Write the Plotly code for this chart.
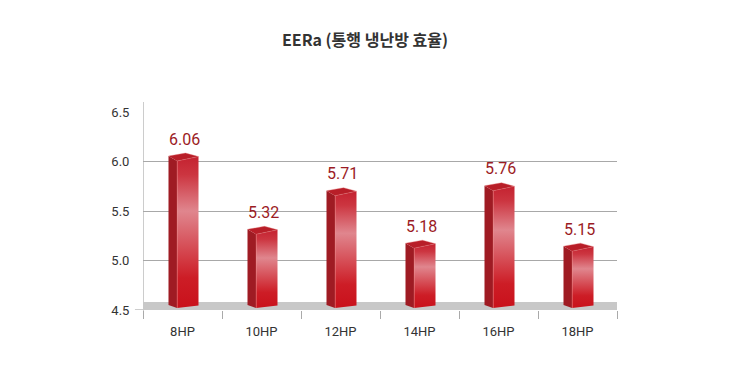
import plotly.graph_objects as go

categories = ["8HP", "10HP", "12HP", "14HP", "16HP", "18HP"]
values = [6.06, 5.32, 5.71, 5.18, 5.76, 5.15]
y_ticks = [4.5, 5.0, 5.5, 6.0, 6.5]
title_text = "EERa (통행 냉난방 효율)"

# pixel-to-data conversion for the pseudo-3D bar geometry
PX_X = 1 / 79.0
PX_Y = 2.0 / 198.0

def ox(i, px):
    return i + px * PX_X

def oy(v, px):
    return v + px * PX_Y

fig = go.Figure()

side_col = "#9f1b23"
top_col = "#b81e28"
front_scale = [[0.0, "#c9111b"], [0.2, "#cd1d26"], [0.64, "#e0868e"],
               [0.88, "#cc3540"], [1.0, "#c42230"]]

for i, v in enumerate(values):
    # side face
    fig.add_trace(go.Scatter(
        x=[ox(i, -14), ox(i, -5.5), ox(i, -5.5), ox(i, -14)],
        y=[oy(v, -0.5), oy(v, -5.5), 4.52, 4.55],
        fill="toself", mode="lines", line=dict(width=0),
        fillcolor=side_col, hoverinfo="skip", showlegend=False))
    # front face with vertical gradient
    fig.add_trace(go.Scatter(
        x=[ox(i, -5.5), ox(i, 16), ox(i, 16), ox(i, -5.5)],
        y=[oy(v, -5.5), oy(v, -1), 4.545, 4.52],
        fill="toself", mode="lines", line=dict(width=0),
        fillgradient=dict(type="vertical", colorscale=front_scale),
        hoverinfo="skip", showlegend=False))
    # light front-left edge
    fig.add_trace(go.Scatter(
        x=[ox(i, -5.2), ox(i, -5.2)], y=[oy(v, -5.5), 4.52],
        mode="lines", line=dict(width=1, color="rgba(240,150,150,0.55)"),
        hoverinfo="skip", showlegend=False))
    # top face
    fig.add_trace(go.Scatter(
        x=[ox(i, -14), ox(i, 3), ox(i, 16), ox(i, -5.5)],
        y=[oy(v, -0.5), oy(v, 2.5), oy(v, -1), oy(v, -5.5)],
        fill="toself", mode="lines", line=dict(width=0.6, color="rgba(230,120,120,0.6)"),
        fillcolor=top_col, hoverinfo="skip", showlegend=False))

annotations = []
for i, v in enumerate(values):
    annotations.append(dict(
        x=i + 0.02, y=v, xref="x", yref="y", text=f"{v:.2f}",
        showarrow=False, yshift=16.5, yanchor="middle",
        font=dict(family="Roboto, sans-serif", size=16, color="#9b1b24")))

shapes = [
    # grey floor band
    dict(type="rect", xref="x", yref="y", x0=-0.5, x1=len(categories) - 0.5,
         y0=4.5, y1=4.58, fillcolor="#c8c8c8", line=dict(width=0), layer="between"),
    # baseline
    dict(type="line", xref="paper", yref="y", x0=-0.017, x1=1, y0=4.5, y1=4.5,
         line=dict(color="#9a9a9a", width=1), layer="between"),
    # y axis line (extends beyond plot area)
    dict(type="line", xref="x", yref="paper", x0=-0.5, x1=-0.5, y0=-0.04, y1=1.05,
         line=dict(color="#cccccc", width=2), layer="between"),
]

fig.update_layout(
    width=730, height=370,
    margin=dict(l=135, r=121, t=104, b=68),
    paper_bgcolor="white", plot_bgcolor="white",
    title=dict(text=title_text, x=357 / 730, xref="container", xanchor="center",
               y=1 - 32 / 370, yref="container", yanchor="middle",
               font=dict(family="Noto Sans CJK KR", size=16, color="#333333", weight=700)),
    xaxis=dict(range=[-0.5, len(categories) - 0.5], tickmode="array",
               tickvals=list(range(len(categories))), ticktext=categories,
               ticks="outside", ticklen=9, tickcolor="rgba(0,0,0,0)",
               showgrid=False, zeroline=False, showline=False,
               tickfont=dict(family="Roboto, sans-serif", size=13, color="#333333"),
               minor=dict(tick0=0.5, dtick=1, ticks="outside", ticklen=8,
                          tickcolor="#aaaaaa", tickwidth=1, showgrid=False),
               fixedrange=True),
    yaxis=dict(range=[4.5, 6.5], tickmode="array", tickvals=y_ticks,
               ticktext=[f"{t:.1f}" for t in y_ticks],
               showgrid=True, gridcolor="#a8a8a8", gridwidth=1,
               zeroline=False, showline=False,
               ticks="outside", ticklen=10, tickcolor="rgba(0,0,0,0)",
               tickfont=dict(family="Roboto, sans-serif", size=13, color="#333333"),
               fixedrange=True),
    annotations=annotations,
    shapes=shapes,
)

fig.write_html("out.html")
